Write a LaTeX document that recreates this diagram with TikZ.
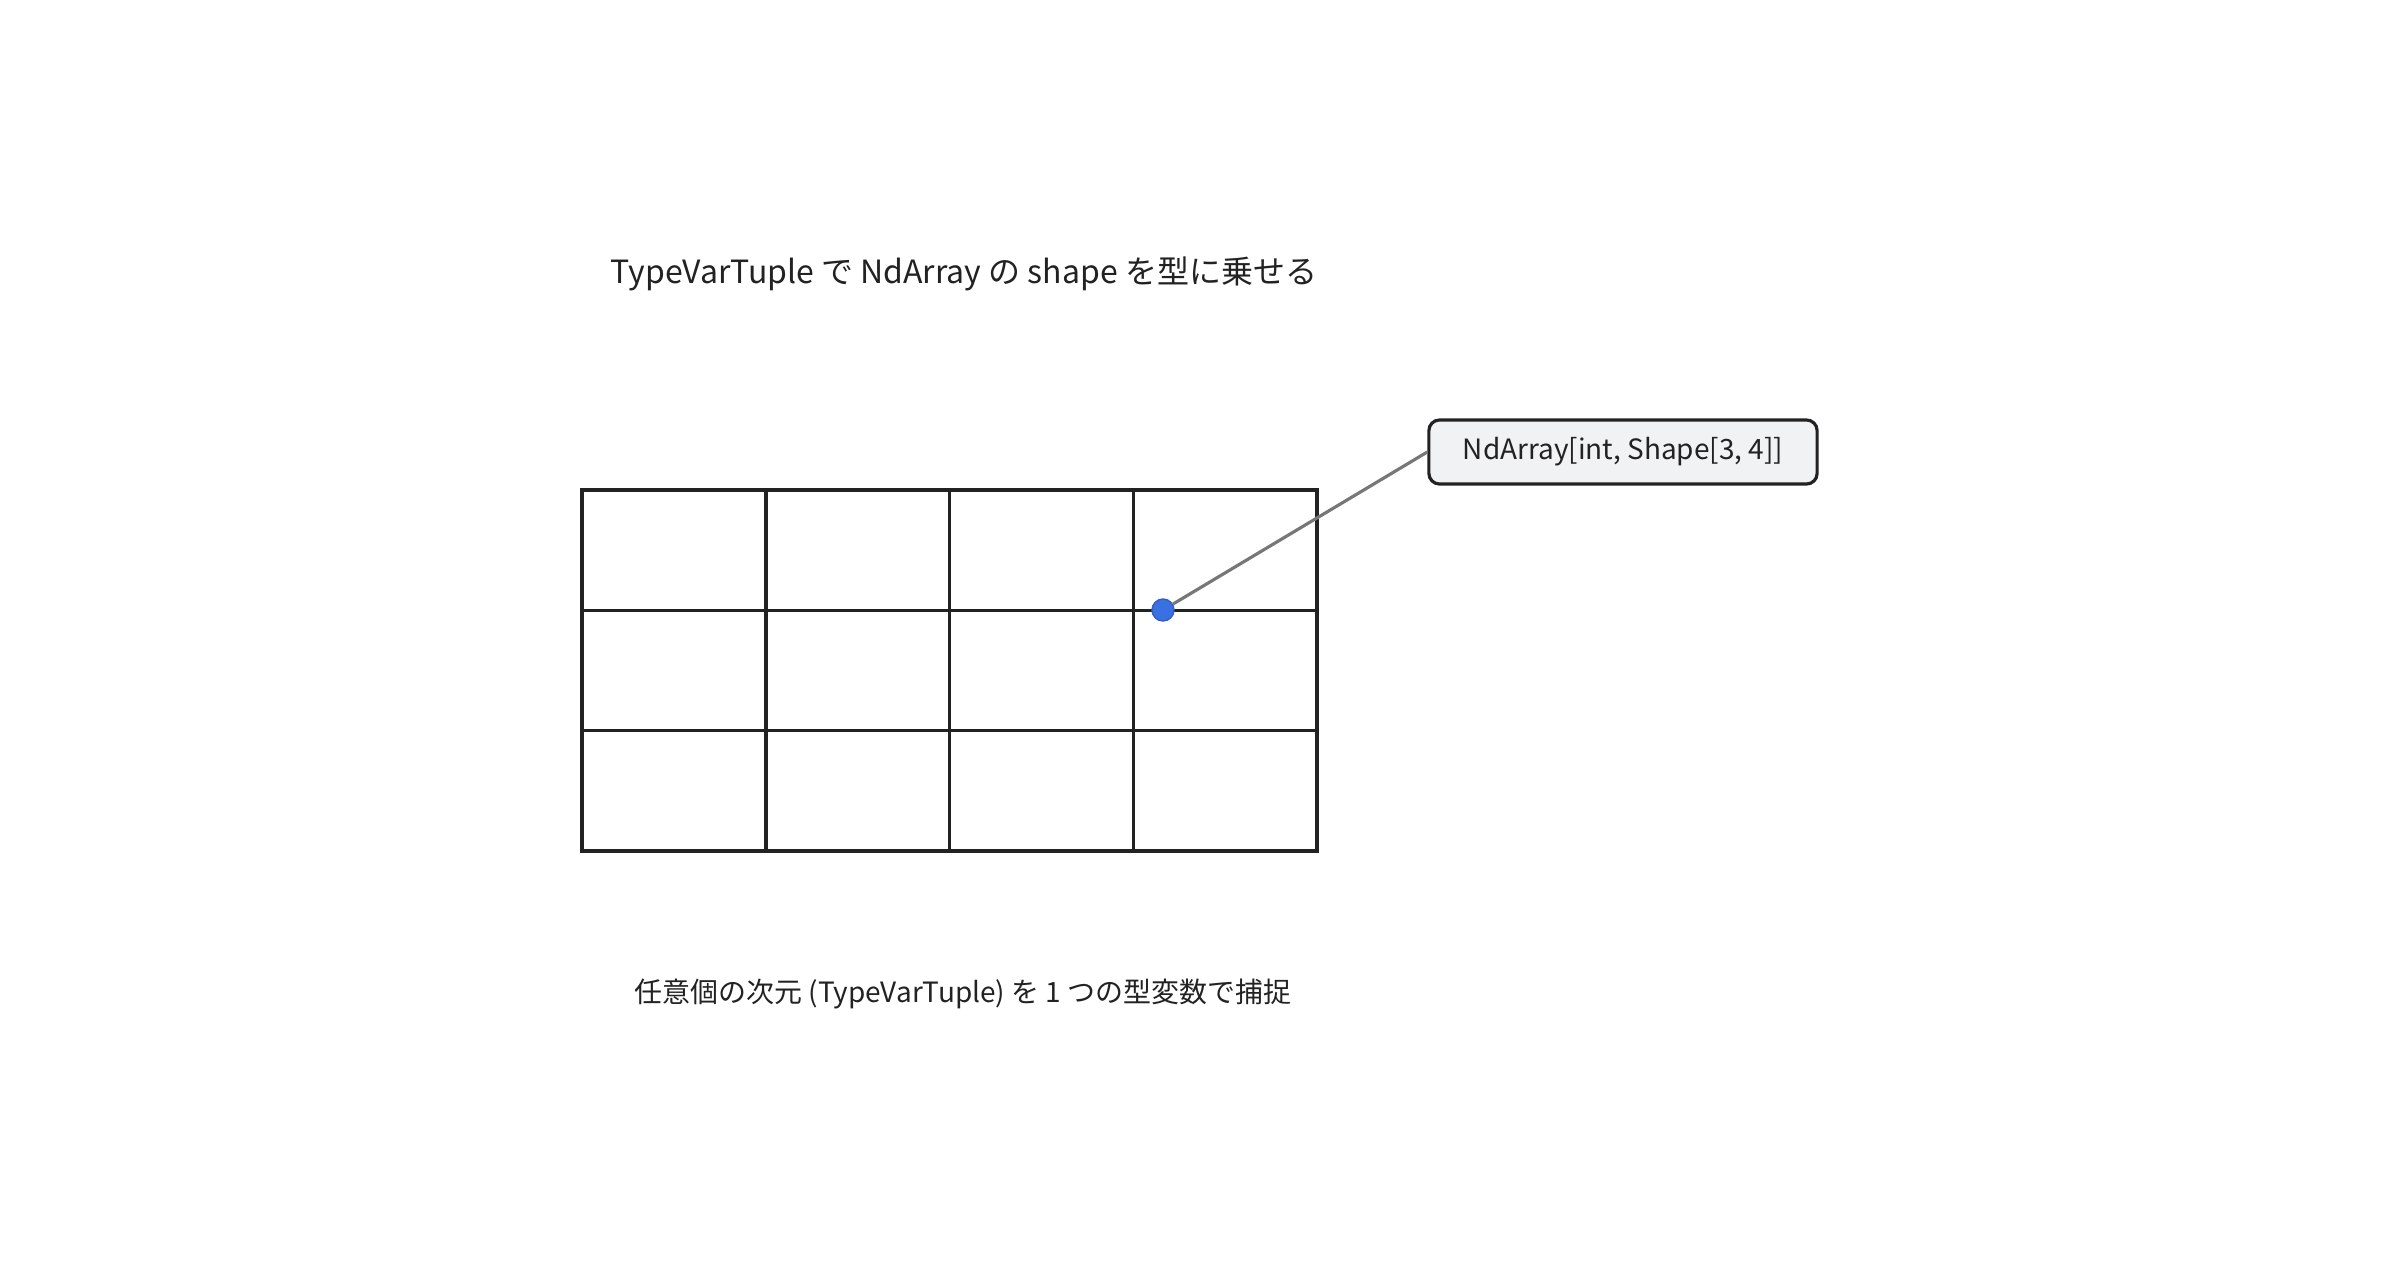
\documentclass[tikz,border=0pt]{standalone}
\usepackage{fontspec}
\setmainfont{Noto Sans CJK JP}
\usetikzlibrary{arrows}
\definecolor{boxgray}{HTML}{F1F2F4}
\definecolor{dotblue}{HTML}{3B70E3}
\definecolor{linkgray}{HTML}{777777}
\definecolor{inkblack}{HTML}{222222}

\begin{document}
\begin{tikzpicture}[x=0.01cm,y=-0.01cm,
  title node/.style={font=\fontsize{9.1}{11}\selectfont,text=inkblack},
  note node/.style={font=\fontsize{7.95}{9}\selectfont,text=inkblack},
  type node/.style={rectangle,rounded corners=3pt,fill=boxgray,draw=inkblack,line width=0.9pt,
    minimum width=3.88cm,minimum height=0.64cm,font=\fontsize{7.95}{9}\selectfont,text=inkblack},
  dot node/.style={circle,fill=dotblue,draw=dotblue!85!black,line width=0.4pt,inner sep=0pt,minimum size=0.22cm},
  grid line/.style={draw=inkblack,line width=1pt,line cap=rect}]

  \useasboundingbox (0,0) rectangle (2400,1260);

  \node[title node] (title) at (964,274) {TypeVarTuple で NdArray の shape を型に乗せる};

  % 3 x 4 array
  \foreach \c in {0,...,4}
    \draw[grid line] (582+\c*183.75,490) -- (582+\c*183.75,851);
  \foreach \r in {0,...,3}
    \draw[grid line] (582,490+\r*120.33) -- (1317,490+\r*120.33);

  \node[type node] (shape) at (1623,452) {NdArray[int, Shape[3, 4]]};
  \node[dot node] (pin) at (1163,610) {};

  \path[draw=linkgray,line width=0.9pt]
    (pin) -- (shape.west)
    ;

  \node[note node] (note) at (963,994) {任意個の次元 (TypeVarTuple) を 1 つの型変数で捕捉};

\end{tikzpicture}
\end{document}
